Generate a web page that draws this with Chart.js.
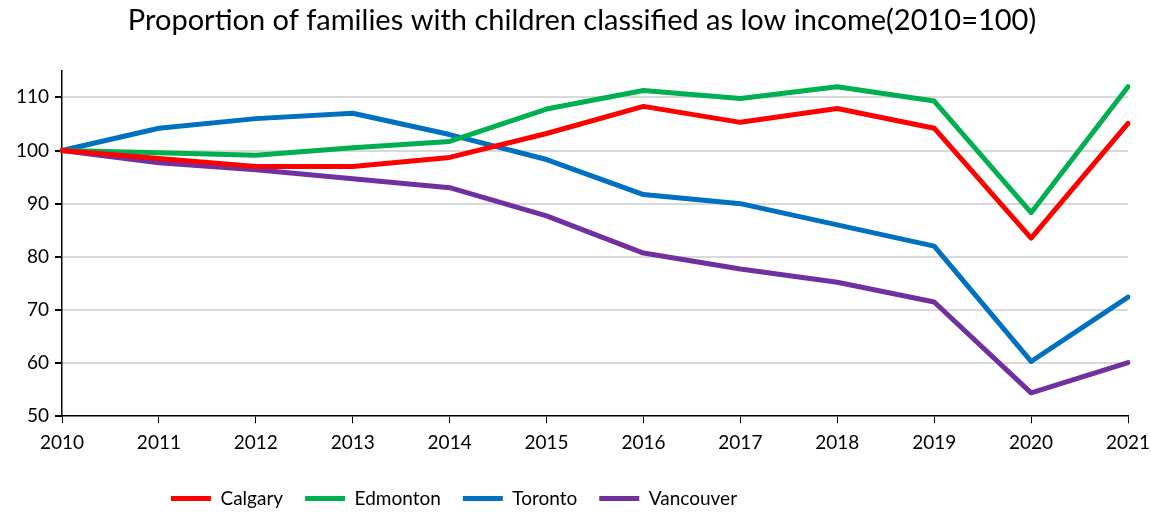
<!DOCTYPE html>
<html>
<head>
<meta charset="utf-8">
<script src="https://cdn.jsdelivr.net/npm/chart.js@4"></script>
<style>
  html, body { margin: 0; padding: 0; background: #fff; }
  #wrap { width: 1151px; height: 513px; }
</style>
</head>
<body>
<div id="wrap"><canvas id="chart" width="1151" height="513"></canvas></div>
<script>
// Data (index, 2010 = 100)
const years = ['2010', '2011', '2012', '2013', '2014', '2015', '2016', '2017', '2018', '2019', '2020', '2021'];
const calgary = [100, 98.5, 97.0, 97.0, 98.7, 103.2, 108.3, 105.3, 107.9, 104.2, 83.5, 105.1];
const edmonton = [100, 99.6, 99.1, 100.5, 101.7, 107.8, 111.3, 109.8, 112.0, 109.3, 88.3, 112.0];
const toronto = [100, 104.2, 106.0, 107.0, 103.0, 98.3, 91.7, 90.0, 86.0, 82.0, 60.3, 72.4];
const vancouver = [100, 97.7, 96.4, 94.7, 93.0, 87.7, 80.7, 77.7, 75.2, 71.5, 54.4, 60.1];
const yTicks = [50, 60, 70, 80, 90, 100, 110];

const FONT = 'Lato, "Noto Sans", sans-serif';

function makeSeries(label, data, color) {
  return {
    label: label,
    data: data,
    borderColor: color,
    backgroundColor: color,
    borderWidth: 5,
    borderCapStyle: 'round',
    borderJoinStyle: 'round',
    pointRadius: 0,
    pointStyle: 'line',
    tension: 0
  };
}

// nudge title and legend to where the reference has them
const shiftBoxes = {
  id: 'shiftBoxes',
  afterUpdate(chart) {
    const t = chart.titleBlock;
    if (t) { t.left += 18; t.right += 18; }
    const l = chart.legend;
    if (l) { l.left -= 110; l.right -= 110; l.top += 5; l.bottom += 5; }
  }
};

const ctx = document.getElementById('chart').getContext('2d');
new Chart(ctx, {
  type: 'line',
  data: {
    labels: years,
    datasets: [
      makeSeries('Calgary', calgary, '#ff0000'),
      makeSeries('Edmonton', edmonton, '#00b050'),
      makeSeries('Toronto', toronto, '#0070c0'),
      makeSeries('Vancouver', vancouver, '#7030a0')
    ]
  },
  plugins: [shiftBoxes],
  options: {
    responsive: false,
    animation: false,
    layout: { padding: { left: 0, right: 23, top: 0, bottom: 0 } },
    plugins: {
      title: {
        display: true,
        text: 'Proportion of families with children classified as low income(2010=100)',
        color: '#000',
        font: { family: FONT, size: 29, weight: 'normal' },
        padding: { top: 3, bottom: 33 }
      },
      legend: {
        position: 'bottom',
        labels: {
          usePointStyle: true,
          pointStyleWidth: 40,
          color: '#000',
          font: { family: FONT, size: 19 },
          padding: 22
        }
      },
      tooltip: { enabled: false }
    },
    scales: {
      x: {
        offset: false,
        afterFit: function(axis) {
          axis.paddingRight = 0;
        },
        grid: {
          drawOnChartArea: false,
          drawTicks: true,
          tickLength: 7,
          tickColor: '#000'
        },
        border: { color: '#000', width: 1.5 },
        ticks: {
          color: '#000',
          font: { family: FONT, size: 19 },
          maxRotation: 0,
          autoSkip: false,
          padding: 8
        }
      },
      y: {
        min: 50,
        max: 115,
        afterBuildTicks: function(axis) {
          axis.ticks = yTicks.map(v => ({ value: v }));
        },
        afterFit: function(axis) {
          axis.width = 62;
        },
        grid: {
          color: function(c) {
            return c.tick && c.tick.value === 50 ? 'rgba(0,0,0,0)' : '#d9d9d9';
          },
          lineWidth: 2,
          tickColor: '#000',
          tickLength: 7
        },
        border: { color: '#000', width: 1.5 },
        ticks: {
          color: '#000',
          font: { family: FONT, size: 19 },
          padding: 6
        }
      }
    }
  }
});
</script>
</body>
</html>
